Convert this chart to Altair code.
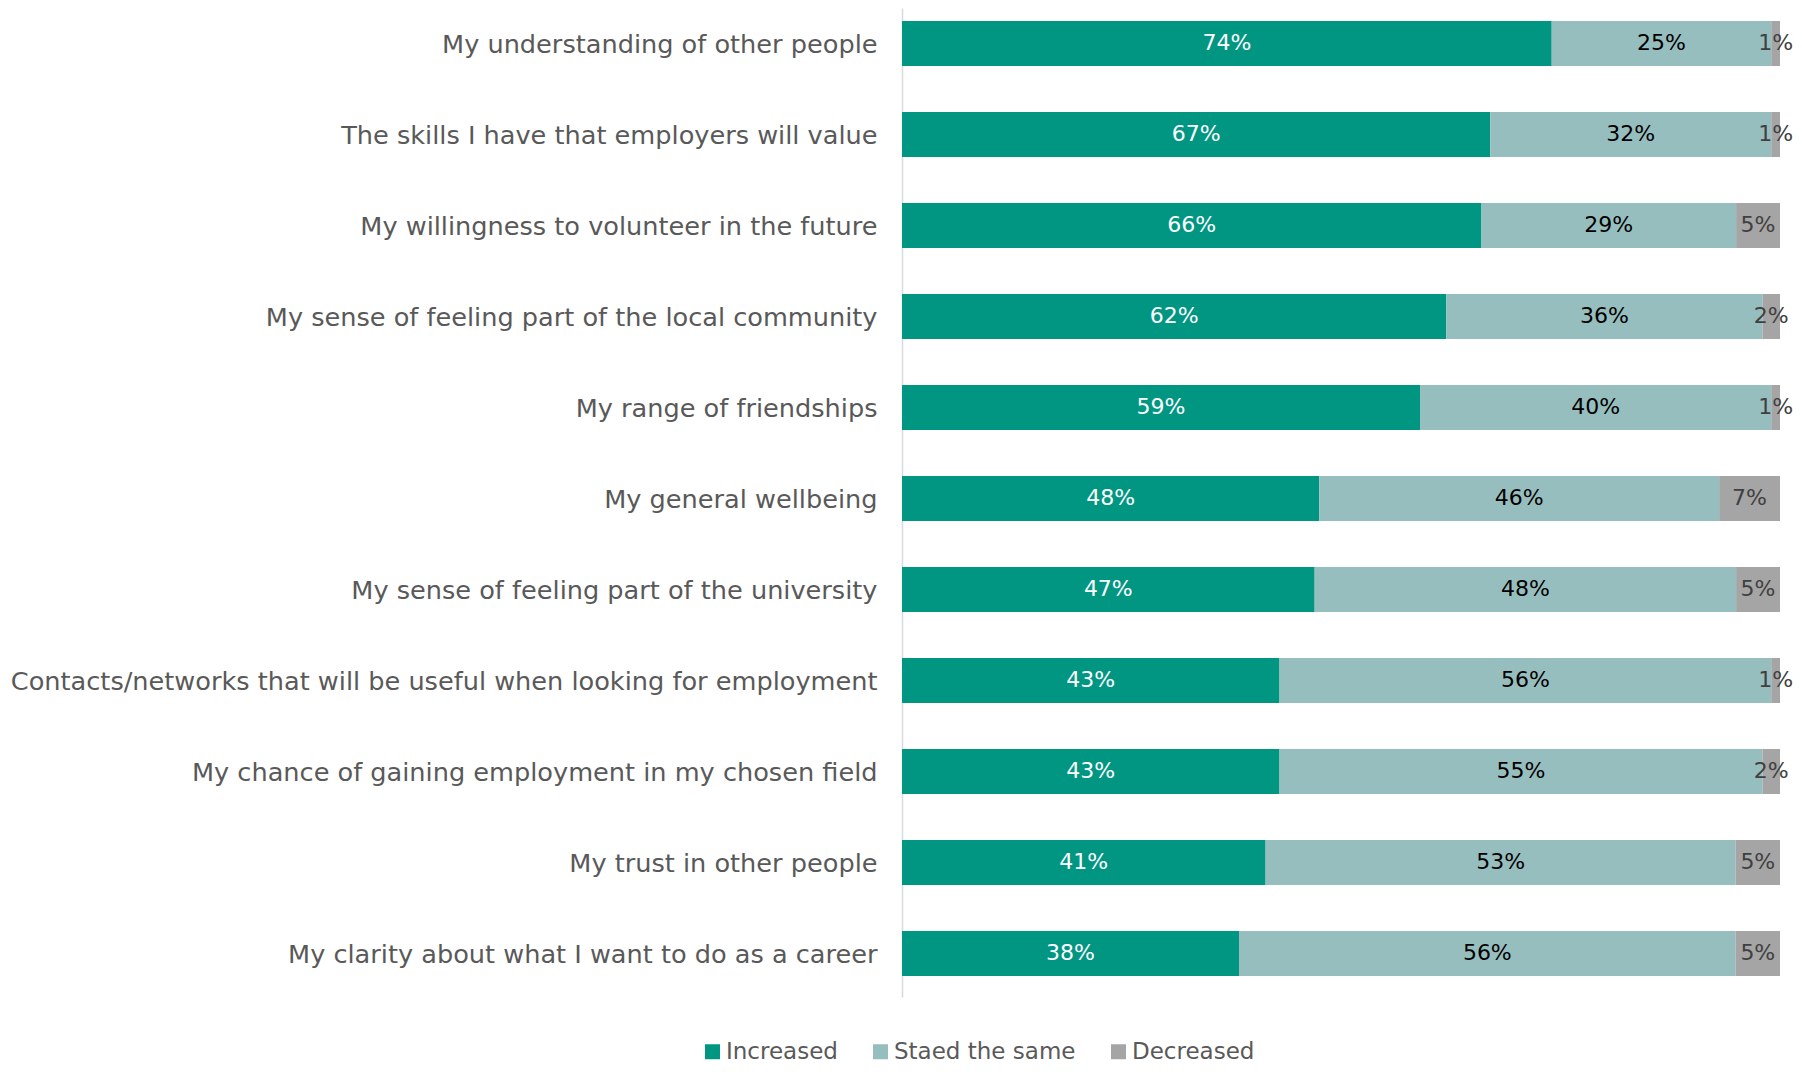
import altair as alt
import pandas as pd

items = [
    "My understanding of other people",
    "The skills I have that employers will value",
    "My willingness to volunteer in the future",
    "My sense of feeling part of the local community",
    "My range of friendships",
    "My general wellbeing",
    "My sense of feeling part of the university",
    "Contacts/networks that will be useful when looking for employment",
    "My chance of gaining employment in my chosen field",
    "My trust in other people",
    "My clarity about what I want to do as a career",
]
increased = [74, 67, 66, 62, 59, 48, 47, 43, 43, 41, 38]
stayed = [25, 32, 29, 36, 40, 46, 48, 56, 55, 53, 56]
decreased = [1, 1, 5, 2, 1, 7, 5, 1, 2, 5, 5]

categories = ["Increased", "Staed the same", "Decreased"]
colors = ["#009682", "#97BEBE", "#A5A5A5"]
label_colors = ["#FFFFFF", "#000000", "#404040"]

rows = []
for i, it in enumerate(items):
    for k, (cat, vals) in enumerate(zip(categories, [increased, stayed, decreased])):
        rows.append({"item": it, "status": cat, "value": vals[i], "order": k,
                     "label": f"{vals[i]}%"})
df = pd.DataFrame(rows)

FONT = "DejaVu Sans"

base = alt.Chart(df).transform_stack(
    stack="value", groupby=["item"], sort=[alt.SortField("order")],
    as_=["v0", "v1"], offset="normalize"
).transform_calculate(mid="(datum.v0 + datum.v1) / 2")

y = alt.Y(
    "item:N", sort=items, title=None,
    scale=alt.Scale(paddingInner=0.5055, paddingOuter=0.1868, align=0.382),
    axis=alt.Axis(ticks=False, labelPadding=25, labelFontSize=25.6, labelColor="#595959",
                  labelFont=FONT, labelOffset=2, domainColor="#D9D9D9", domainWidth=1.5,
                  labelLimit=1000),
)
xs = alt.Scale(domain=[0, 1], nice=False, zero=True)

bars = base.mark_bar().encode(
    x=alt.X("v0:Q", scale=xs, axis=None),
    x2="v1:Q",
    y=y,
    color=alt.Color(
        "status:N",
        scale=alt.Scale(domain=categories, range=colors),
        legend=alt.Legend(
            title=None, orient="none", legendX=-201, legendY=1032,
            direction="horizontal", symbolType="square", symbolSize=225,
            symbolStrokeWidth=0, symbolOpacity=1, labelFontSize=23, labelColor="#595959",
            labelFont=FONT, labelLimit=1000, columnPadding=31, labelOffset=2, padding=0,
        ),
    ),
    order=alt.Order("order:Q"),
)

layers = [bars]
for k, cat in enumerate(categories):
    layers.append(
        base.transform_filter(alt.datum.status == cat)
        .mark_text(color=label_colors[k], fontSize=22, font=FONT)
        .encode(x=alt.X("mid:Q", scale=xs, axis=None), y=y, text="label:N")
    )

chart = alt.layer(*layers).properties(
    width=878, height=989,
    autosize=alt.AutoSizeParams(type="none"),
    padding={"left": 894, "top": 0, "right": 14, "bottom": 67},
).configure_view(stroke=None)

chart.save("out.html", embed_options={"renderer": "svg", "actions": False})
